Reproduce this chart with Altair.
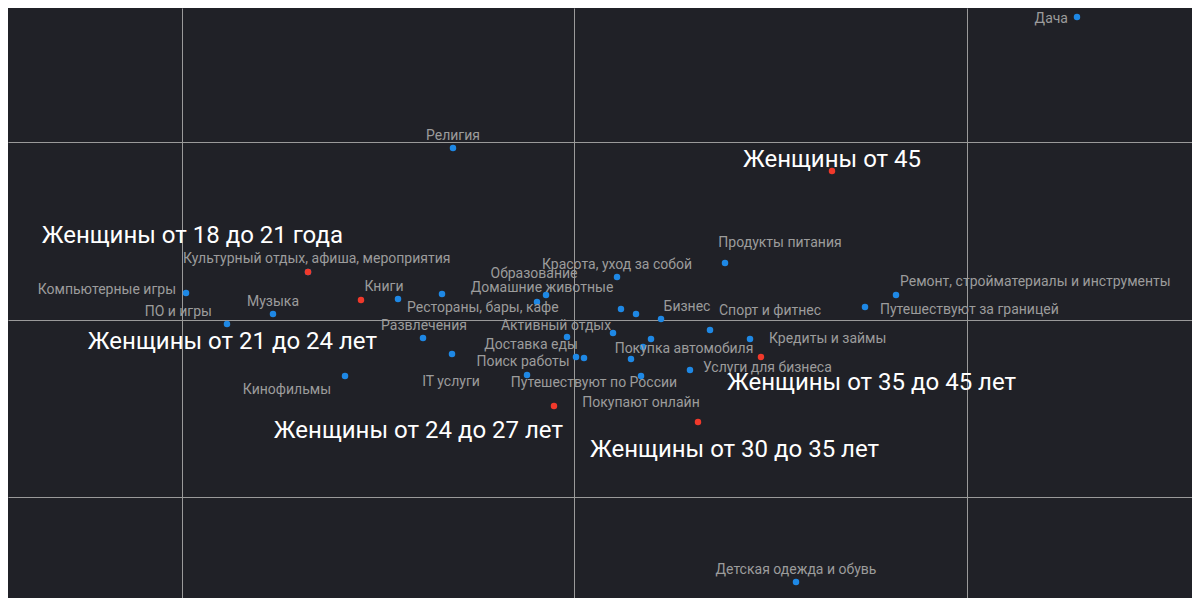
import altair as alt
import pandas as pd

# ---- data (map coordinates) ----
names = [
    "Дача", "Религия", "Продукты питания", "Красота, уход за собой",
    "Ремонт, стройматериалы и инструменты", "Путешествуют за границей",
    "Компьютерные игры", "ПО и игры", "Музыка", "Кинофильмы", "Книги",
    "Рестораны, бары, кафе", "Домашние животные", "Образование",
    "Развлечения", "IT услуги", "Активный отдых", "Доставка еды",
    "Поиск работы", "Путешествуют по России", "Покупают онлайн", "Бизнес",
    "Спорт и фитнес", "Кредиты и займы", "Покупка автомобиля",
    "Услуги для бизнеса", "Культурный отдых, афиша, мероприятия",
    "Детская одежда и обувь", "", "", "", "", "",
]
xs = [
    1.2815, -0.3083, 0.3847, 0.1096,
    0.8204, 0.7414,
    -0.9885, -0.8841, -0.7669, -0.5834, -0.4484,
    -0.3363, -0.0943, -0.0713,
    -0.3847, -0.3108, -0.0178, 0.0051,
    -0.1197, 0.0255, 0.1707, 0.2217,
    0.3465, 0.4484, 0.1758,
    0.2955, -0.6777,
    0.5656, 0.1197, 0.1580, 0.0994, 0.1962, 0.1452,
]
ys = [
    0.8535, 0.4845, 0.1606, 0.1211,
    0.0704, 0.0366,
    0.0761, -0.0113, 0.0169, -0.1577, 0.0592,
    0.0732, 0.0507, 0.0704,
    -0.0507, -0.0958, -0.0479, -0.1042,
    -0.1549, -0.1070, -0.1577, 0.0028,
    -0.0282, -0.0535, -0.0761,
    -0.1408, 0.1352,
    -0.7380, 0.0310, 0.0169, -0.0366, -0.0535, -0.1099,
]

seg_names = [
    "Женщины от 18 до 21 года", "Женщины от 21 до 24 лет",
    "Женщины от 24 до 27 лет", "Женщины от 30 до 35 лет",
    "Женщины от 35 до 45 лет", "Женщины от 45",
]
seg_x = [-0.6777, -0.5427, -0.0510, 0.3159, 0.4764, 0.6573]
seg_y = [0.1352, 0.0563, -0.2423, -0.2873, -0.1042, 0.4197]

grid_x = [-1, 0, 1]
grid_y = [-0.5, 0, 0.5]

# ---- label placement (style, not data): align, dx, dy in px ----
label_pos = {
    "Дача": ("right", -9, 2),
    "Религия": ("center", 0, -12),
    "Продукты питания": ("center", 55, -20),
    "Красота, уход за собой": ("center", 0, -12),
    "Ремонт, стройматериалы и инструменты": ("left", 4, -13),
    "Путешествуют за границей": ("left", 15, 3),
    "Компьютерные игры": ("right", -10, -3),
    "ПО и игры": ("right", -15, -12),
    "Музыка": ("center", 0, -12),
    "Кинофильмы": ("right", -14, 14),
    "Книги": ("center", -14, -12),
    "Рестораны, бары, кафе": ("left", -35, 14),
    "Домашние животные": ("center", 5, -14),
    "Образование": ("center", -12, -21),
    "Развлечения": ("center", 1, -12),
    "IT услуги": ("center", -1, 28),
    "Активный отдых": ("center", -11, -11),
    "Доставка еды": ("center", -45, -12),
    "Поиск работы": ("center", -4, -13),
    "Путешествуют по России": ("center", 10, 25),
    "Покупают онлайн": ("center", 0, 27),
    "Бизнес": ("center", 26, -12),
    "Спорт и фитнес": ("left", 9, -19),
    "Кредиты и займы": ("left", 19, 0),
    "Покупка автомобиля": ("center", 41, 2),
    "Услуги для бизнеса": ("left", 13, -2),
    "Культурный отдых, афиша, мероприятия": ("left", -125, -13),
    "Детская одежда и обувь": ("center", 0, -12),
}
seg_label_pos = {
    "Женщины от 18 до 21 года": ("right", 35, -36),
    "Женщины от 21 до 24 лет": ("right", 16, 42),
    "Женщины от 24 до 27 лет": ("right", 9, 25),
    "Женщины от 30 до 35 лет": ("left", -108, 28),
    "Женщины от 35 до 45 лет": ("left", -34, 26),
    "Женщины от 45": ("center", 0, -11),
}

BG = "#202127"
BLUE = "#1E88E5"
RED = "#F0392B"
GRID = "#9a9a9a"
LABEL = "#9c9c9c"
FONT = "Roboto"

df = pd.DataFrame({"id": list(range(len(names))), "name": names, "x": xs, "y": ys})
sdf = pd.DataFrame({"id": list(range(len(seg_names))), "name": seg_names, "x": seg_x, "y": seg_y})

xscale = alt.Scale(domain=[-1.44204, 1.57452], nice=False, zero=False)
yscale = alt.Scale(domain=[-0.78310, 0.87887], nice=False, zero=False)

X = alt.X("x:Q", scale=xscale,
          axis=alt.Axis(values=grid_x, grid=True, labels=False, ticks=False,
                        domain=False, title=None, gridColor=GRID, gridWidth=1,
                        gridOpacity=1))
Y = alt.Y("y:Q", scale=yscale,
          axis=alt.Axis(values=grid_y, grid=True, labels=False, ticks=False,
                        domain=False, title=None, gridColor=GRID, gridWidth=1,
                        gridOpacity=1))

layers = []
layers.append(alt.Chart(df).mark_circle(size=42, opacity=1, color=BLUE).encode(x=X, y=Y))
layers.append(alt.Chart(sdf).mark_circle(size=42, opacity=1, color=RED).encode(x=X, y=Y))

for i, n in enumerate(names):
    if n not in label_pos:
        continue
    a, dx, dy = label_pos[n]
    layers.append(
        alt.Chart(df).transform_filter(alt.datum.id == i)
        .mark_text(align=a, baseline="middle", dx=dx, dy=dy, font=FONT,
                   fontSize=14, color=LABEL)
        .encode(x=X, y=Y, text="name:N")
    )
for i, n in enumerate(seg_names):
    a, dx, dy = seg_label_pos[n]
    layers.append(
        alt.Chart(sdf).transform_filter(alt.datum.id == i)
        .mark_text(align=a, baseline="middle", dx=dx, dy=dy, font=FONT,
                   fontSize=24, color="#ffffff")
        .encode(x=X, y=Y, text="name:N")
    )

chart = (
    alt.layer(*layers)
    .properties(width=1184, height=590, padding=0,
                autosize=alt.AutoSizeParams(type="none"))
    .configure(background=BG)
    .configure_view(stroke="transparent")
)

chart.save("out.html", embed_options={"renderer": "svg", "actions": False})
